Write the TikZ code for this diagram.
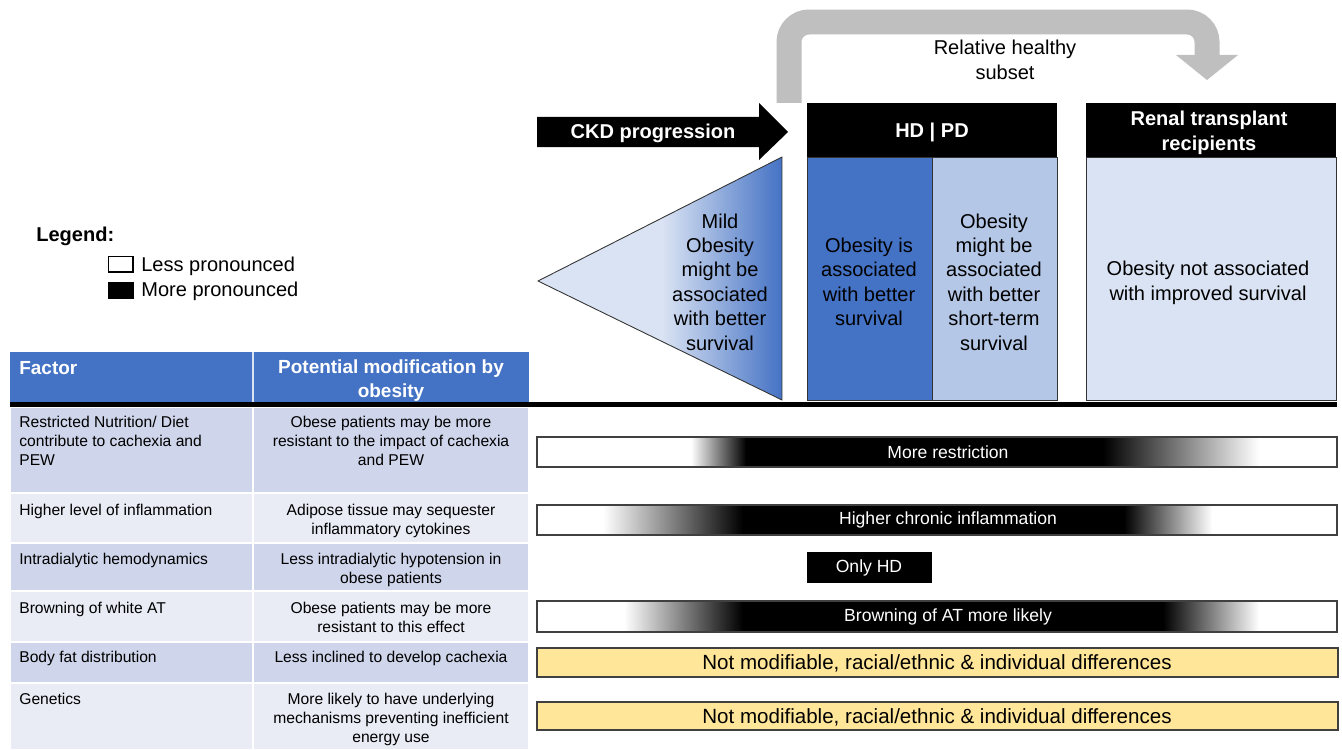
\documentclass[tikz,border=0pt]{standalone}
\usepackage{fontspec}
\setmainfont{Liberation Sans}
\definecolor{obeseblue}{RGB}{68,114,196}
\definecolor{obesemid}{RGB}{180,199,231}
\definecolor{obeselight}{RGB}{218,227,243}
\definecolor{rowdark}{RGB}{207,213,234}
\definecolor{rowlight}{RGB}{233,235,245}
\definecolor{baryellow}{RGB}{255,230,153}
\definecolor{arrowgray}{RGB}{191,191,191}
\tikzset{
  cell/.style={
    font=\fontsize{8.9}{10.8}\selectfont,
    inner sep=0pt
  },
  celltext/.style={cell, anchor=north west, align=left},
  cellmid/.style={cell, anchor=north, align=center},
  headtext/.style={
    font=\fontsize{10.8}{13.6}\selectfont\bfseries,
    text=white,
    inner sep=0pt
  },
  stagehead/.style={
    font=\fontsize{11.4}{13.9}\selectfont\bfseries,
    text=white,
    align=center,
    inner sep=0pt
  },
  stagetext/.style={
    font=\fontsize{11.4}{13.9}\selectfont,
    align=center,
    inner sep=0pt
  },
  bartext/.style={
    font=\fontsize{10}{12}\selectfont,
    text=white,
    inner sep=0pt
  },
  yellowtext/.style={font=\fontsize{11.7}{14}\selectfont, inner sep=0pt},
  barframe/.style={draw=black!75, line width=0.6pt},
  boxframe/.style={draw=black!80, line width=0.5pt}
}
% name, top, bottom, fade in, black from, black to, fade out, text
\newcommand{\fadebar}[8]{%
  \fill[white] (537,#2) rectangle (1337,#3);
  \shade[left color=white, right color=black] (#4,#2) rectangle (#5,#3);
  \fill[black] (#5-0.5,#2) rectangle (#6+0.5,#3);
  \shade[left color=black, right color=white] (#6,#2) rectangle (#7,#3);
  \draw[barframe] (537,#2) rectangle (1337,#3);
  \node[bartext] (#1) at (948,{(#2+#3)/2}) {#8};
}
\begin{document}
\begin{tikzpicture}[x=0.02cm, y=-0.02cm]
  \useasboundingbox (0,0) rectangle (1342,750);
  % stages
  \draw[arrowgray, line width=0.5cm, rounded corners=0.4cm]
    (789,103) -- (789,22) -- (1207,22) -- (1207,56);
  \fill[arrowgray] (1176,55) -- (1238,55) -- (1207,80) -- cycle;
  \node[stagetext] (healthy) at (1005,60) {Relative healthy\\subset};
  \fill[black] (537,117) -- (759,117) -- (759,103) -- (788,132)
    -- (759,160) -- (759,147) -- (537,147) -- cycle;
  \node[stagehead] (ckd) at (653,133) {CKD progression};
  \fill[black] (807,103) rectangle (1057,157);
  \node[stagehead] (hdpd) at (932,132) {HD | PD};
  \fill[black] (1086,103) rectangle (1336,157);
  \node[stagehead] (renal) at (1209,133) {Renal transplant\\recipients};
  \filldraw[fill=obeseblue, boxframe] (807,157) rectangle (932,400);
  \filldraw[fill=obesemid, boxframe] (932,157) rectangle (1057,400);
  \filldraw[fill=obeselight, boxframe] (1086,157) rectangle (1336,400);
  \begin{scope}
    \clip (538,281) -- (782,157) -- (782,400) -- cycle;
    \fill[obeselight] (538,157) rectangle (782,400);
    \shade[left color=obeselight, right color=obeseblue] (662,157) rectangle (782,400);
  \end{scope}
  \draw[boxframe] (538,281) -- (782,157) -- (782,400) -- cycle;
  \node[stagetext] (mild) at (720,282) {Mild\\Obesity\\might be\\associated\\with better\\survival};
  \node[stagetext] (hdtext) at (869,282) {Obesity is\\associated\\with better\\survival};
  \node[stagetext] (pdtext) at (994,282) {Obesity\\might be\\associated\\with better\\short-term\\survival};
  \node[stagetext] (renaltext) at (1208,283) {Obesity not associated\\with improved survival};
  % legend
  \node[stagetext, font=\fontsize{11.4}{13.9}\selectfont\bfseries, anchor=west] (legend) at (36,236) {Legend:};
  \draw[line width=0.6pt] (108.5,256.5) rectangle (133,272);
  \fill[black] (108,282) rectangle (133.5,298.5);
  \node[stagetext, anchor=west] (less) at (141,266) {Less pronounced};
  \node[stagetext, anchor=west] (more) at (141,291.5) {More pronounced};
  % table
  \fill[obeseblue] (10,352) rectangle (529,402);
  \draw[white!80!obeseblue, line width=0.6pt] (253,352) -- (253,402);
  \node[headtext, anchor=west] (factor) at (19,368) {Factor};
  \node[headtext, align=center] (modify) at (391,381) {Potential modification by\\obesity};
  \foreach \top/\bot/\col in {407/493/rowdark, 493/543/rowlight, 543/591/rowdark,
      591/642/rowlight, 642/683/rowdark, 683/750/rowlight} {
    \filldraw[fill=\col, draw=white, line width=0.8pt] (10,\top) rectangle (253,\bot);
    \filldraw[fill=\col, draw=white, line width=0.8pt] (253,\top) rectangle (529,\bot);
  }
  \draw[black, line width=0.1cm] (10,404.5) -- (1337,404.5);
  \node[celltext] (f1) at (19,416) {Restricted Nutrition/ Diet\\contribute to cachexia and\\PEW};
  \node[cellmid] (m1) at (391,416) {Obese patients may be more\\resistant to the impact of cachexia\\and PEW};
  \node[celltext] (f2) at (19,504) {Higher level of inflammation};
  \node[cellmid] (m2) at (391,504) {Adipose tissue may sequester\\inflammatory cytokines};
  \node[celltext] (f3) at (19,553) {Intradialytic hemodynamics};
  \node[cellmid] (m3) at (391,553) {Less intradialytic hypotension in\\obese patients};
  \node[celltext] (f4) at (19,602) {Browning of white AT};
  \node[cellmid] (m4) at (391,602) {Obese patients may be more\\resistant to this effect};
  \node[celltext] (f5) at (19,651) {Body fat distribution};
  \node[cellmid] (m5) at (391,651) {Less inclined to develop cachexia};
  \node[celltext] (f6) at (19,693) {Genetics};
  \node[cellmid] (m6) at (391,693) {More likely to have underlying\\mechanisms preventing inefficient\\energy use};
  % bars
  \fadebar{restrict}{437}{467}{691}{746}{1103}{1259}{More restriction}
  \fadebar{inflame}{505}{535}{603}{743}{1124}{1212}{Higher chronic inflammation}
  \fill[black] (807,552) rectangle (932,583);
  \node[bartext] (onlyhd) at (869,568) {Only HD};
  \fadebar{browning}{601}{632}{624}{743}{1163}{1259}{Browning of AT more likely}
  \filldraw[fill=baryellow, barframe] (537,648) rectangle (1338,677);
  \node[yellowtext] (fixed1) at (937,663) {Not modifiable, racial/ethnic \& individual differences};
  \filldraw[fill=baryellow, barframe] (537,702) rectangle (1338,730);
  \node[yellowtext] (fixed2) at (937,717) {Not modifiable, racial/ethnic \& individual differences};
\end{tikzpicture}
\end{document}
